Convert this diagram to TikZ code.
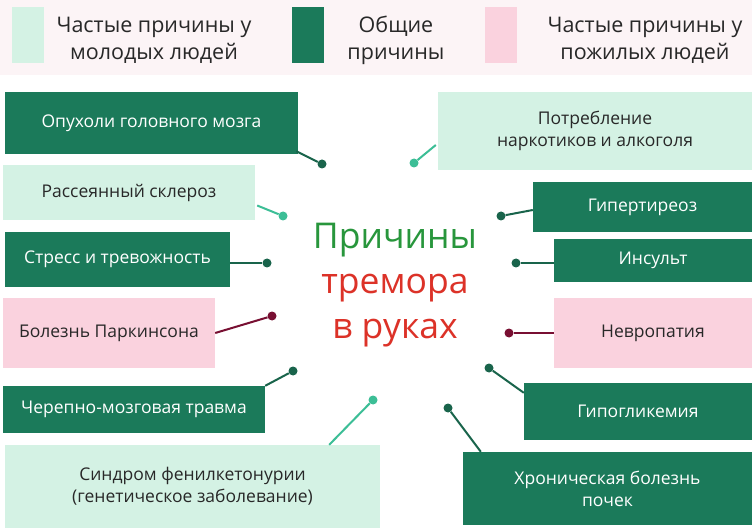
\documentclass[tikz,border=0pt]{standalone}
\usepackage{fontspec}
\setmainfont{Open Sans}
\usepackage{xcolor}
\usepackage{tikz}
\usetikzlibrary{arrows.meta, positioning}

\definecolor{darkgreen}{RGB}{27,122,90}
\definecolor{mint}{RGB}{212,242,228}
\definecolor{rose}{RGB}{250,210,222}
\definecolor{darkdot}{RGB}{25,100,75}
\definecolor{mintdot}{RGB}{60,190,150}
\definecolor{maroon}{RGB}{120,15,50}
\definecolor{legendbg}{RGB}{252,244,246}
\definecolor{titlegreen}{RGB}{40,150,60}
\definecolor{titlered}{RGB}{220,50,40}
\definecolor{ink}{RGB}{40,40,40}

\begin{document}
\begin{tikzpicture}[
    x=1pt, y=-1pt,
    box/.style={inner sep=0pt, align=center, font=\fontsize{17.5}{22}\selectfont},
    common/.style={box, fill=darkgreen, text=white},
    young/.style={box, fill=mint, text=ink},
    old/.style={box, fill=rose, text=ink},
    dot/.style={circle, fill, inner sep=0pt, minimum size=9pt},
    link/.style={line width=2pt},
    swatch/.style={inner sep=0pt, minimum width=32pt, minimum height=56pt},
    legend/.style={align=center, text=ink, font=\fontsize{21.5}{27}\selectfont}
  ]
  \useasboundingbox (0,0) rectangle (752,529);
  \fill[white] (0,0) rectangle (752,529);

  % Legend
  \fill[legendbg] (0,0) rectangle (752,75);
  \node[swatch, fill=mint]      (swyoung)  at (27.5,35) {};
  \node[swatch, fill=darkgreen] (swcommon) at (307.5,35) {};
  \node[swatch, fill=rose]      (swold)    at (501,35) {};
  \node[legend] (lyoung)  at (154,40) {Частые причины у\\молодых людей};
  \node[legend] (lcommon) at (396,40) {Общие\\причины};
  \node[legend] (lold)    at (645,40) {Частые причины у\\пожилых людей};

  % Title
  \node[align=center, font=\fontsize{35.5}{45}\selectfont] (title) at (395,285)
    {\textcolor{titlegreen}{Причины}\\\textcolor{titlered}{тремора}\\\textcolor{titlered}{в руках}};

  % Left causes
  \node[common, minimum width=293pt, minimum height=62pt] (tumor)     at (151.5,123) {Опухоли головного мозга};
  \node[young,  minimum width=252pt, minimum height=55pt] (sclerosis) at (129,192.5) {Рассеянный склероз};
  \node[common, minimum width=225pt, minimum height=55pt] (stress)    at (117.5,259.5) {Стресс и тревожность};
  \node[old,    minimum width=212pt, minimum height=70pt] (parkinson) at (109,333) {Болезнь Паркинсона};
  \node[common, minimum width=262pt, minimum height=47pt] (injury)    at (134,409.5) {Черепно-мозговая травма};
  \node[young,  minimum width=375pt, minimum height=83pt] (pku)       at (192.5,486.5) {Синдром фенилкетонурии\\(генетическое заболевание)};

  % Right causes
  \node[young,  minimum width=314pt, minimum height=78pt] (drugs)   at (595,131) {Потребление\\наркотиков и алкоголя};
  \node[common, minimum width=219pt, minimum height=50pt] (thyroid) at (642.5,207) {Гипертиреоз};
  \node[common, minimum width=198pt, minimum height=43pt] (stroke)  at (653,260.5) {Инсульт};
  \node[old,    minimum width=198pt, minimum height=70pt] (neuro)   at (653,333) {Невропатия};
  \node[common, minimum width=228pt, minimum height=57pt] (hypo)    at (638,411.5) {Гипогликемия};
  \node[common, minimum width=289pt, minimum height=73pt] (kidney)  at (607.5,488.5) {Хроническая болезнь\\почек};

  % Dots
  \node[dot, darkdot] (dtumor)     at (322,164) {};
  \node[dot, mintdot] (dsclerosis) at (283,216) {};
  \node[dot, darkdot] (dstress)    at (267,263) {};
  \node[dot, maroon]  (dparkinson) at (272,316) {};
  \node[dot, darkdot] (dinjury)    at (293,371) {};
  \node[dot, mintdot] (dpku)       at (373,400) {};
  \node[dot, mintdot] (ddrugs)     at (414,163) {};
  \node[dot, darkdot] (dthyroid)   at (501,216) {};
  \node[dot, darkdot] (dstroke)    at (516,263) {};
  \node[dot, maroon]  (dneuro)     at (509,333) {};
  \node[dot, darkdot] (dhypo)      at (489,368) {};
  \node[dot, darkdot] (dkidney)    at (448,408) {};

  % Connectors
  \draw[link, darkdot] ([shift={(-2,-3)}]tumor.south east) -- (dtumor);
  \draw[link, mintdot] ([shift={(2,13)}]sclerosis.east) -- (dsclerosis);
  \draw[link, darkdot] (stress.east |- dstress) -- (dstress);
  \draw[link, maroon]  (parkinson.east) -- (dparkinson);
  \draw[link, darkdot] (injury.north east) -- (dinjury);
  \draw[link, mintdot] ([xshift=-51pt]pku.north east) -- (dpku);
  \draw[link, mintdot] ([shift={(-2,14)}]drugs.west) -- (ddrugs);
  \draw[link, darkdot] ([yshift=-3pt]thyroid.west) -- (dthyroid);
  \draw[link, darkdot] (stroke.west |- dstroke) -- (dstroke);
  \draw[link, maroon]  (neuro.west |- dneuro) -- (dneuro);
  \draw[link, darkdot] ([yshift=-10pt]hypo.north west) -- (dhypo);
  \draw[link, darkdot] ([xshift=18pt]kidney.north west) -- (dkidney);
\end{tikzpicture}
\end{document}
